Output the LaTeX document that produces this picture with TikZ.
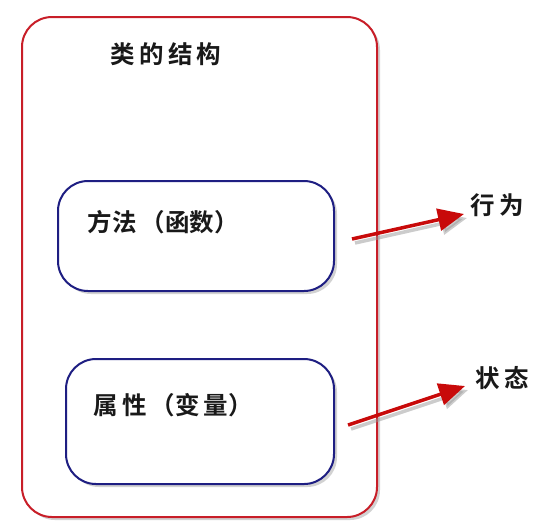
\documentclass[tikz,border=0pt]{standalone}
\usepackage{fontspec}
\newfontfamily\cjk{Noto Sans CJK SC}[BoldFont={Noto Sans CJK SC Bold}]
\usetikzlibrary{shadows,arrows.meta}
\definecolor{boxred}{RGB}{200,30,40}
\definecolor{boxblue}{RGB}{30,30,130}
\definecolor{arrred}{RGB}{200,10,10}
\tikzset{
  outerbox/.style={draw=boxred, line width=2pt, rounded corners=30pt, fill=white,
    drop shadow={shadow xshift=3pt, shadow yshift=-3pt, fill=black!35, opacity=0.5}},
  innerbox/.style={draw=boxblue, line width=2pt, rounded corners=30pt, fill=white,
    drop shadow={shadow xshift=3pt, shadow yshift=-3pt, fill=black!35, opacity=0.5}},
  lbl/.style={font=\cjk\bfseries\fontsize{24.5}{28}\selectfont, text=black!90},
  arr/.style={draw=arrred, line width=3.5pt, -{Triangle[length=26pt,width=22pt]},
    preaction={draw=black!40, opacity=0.5, line width=3.5pt, transform canvas={xshift=3pt,yshift=-4pt}, -{Triangle[length=26pt,width=22pt]}}}
}
\begin{document}
\begin{tikzpicture}[x=1pt,y=-1pt]
\useasboundingbox (0,0) rectangle (553,531);
\node[outerbox, minimum width=355pt, minimum height=500pt, anchor=north west] (outer) at (21,16) {};
\node[lbl] (title) at (166,54) {类\,的\,结\,构};
\node[innerbox, minimum width=276pt, minimum height=110pt, anchor=north west] (m) at (57,180) {};
\node[lbl, anchor=west] (mt) at (84,222) {方法\,（函数）};
\node[innerbox, minimum width=268pt, minimum height=125pt, anchor=north west] (p) at (65,358) {};
\node[lbl, anchor=west] (pt) at (90,405) {属\,性\,（变\,量）};
\node[lbl, anchor=west] (beh) at (467,205) {行\,为};
\node[lbl, anchor=west] (st) at (472,378) {状\,态};
\coordinate (a1s) at (352,239);
\coordinate (a1e) at (464,214);
\coordinate (a2s) at (348,425);
\coordinate (a2e) at (465,386);
\draw[arr] (a1s) -- (a1e);
\draw[arr] (a2s) -- (a2e);
\end{tikzpicture}
\end{document}
